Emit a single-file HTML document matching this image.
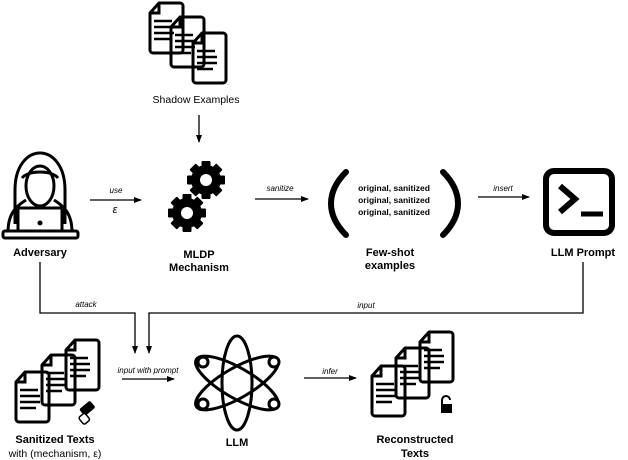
<!DOCTYPE html>
<html><head><meta charset="utf-8"><style>
body{margin:0;background:#fff}
svg{display:block}
text{font-family:"Liberation Sans",sans-serif;fill:#000}
.b{font-weight:bold;font-size:11px}
.i{font-style:italic;font-size:8px}
</style></head><body>
<svg width="628" height="460" viewBox="0 0 628 460" xmlns="http://www.w3.org/2000/svg">
<defs>
<marker id="a" markerWidth="8" markerHeight="8" refX="7" refY="4" orient="auto" markerUnits="userSpaceOnUse">
<path d="M0,1 L8,4 L0,7 Z" fill="#000"/></marker>
<g id="doc">
<path d="M9,0 H30 a3,3 0 0 1 3,3 V47 a3,3 0 0 1 -3,3 H3 a3,3 0 0 1 -3,-3 V10 Z" fill="none" stroke="#000" stroke-width="3" stroke-linejoin="round"/>
<path d="M0,10 H9 V0" fill="none" stroke="#000" stroke-width="3"/>
<path d="M4,18 H22 M4,24 H24 M4,30 H24 M4,36 H20" stroke="#000" stroke-width="2.5"/>
</g>
<g id="gear">
<circle r="15" fill="#000"/>
<g fill="#000">
<rect x="-4.5" y="-19" width="9" height="38" rx="1"/>
<rect x="-4.5" y="-19" width="9" height="38" rx="1" transform="rotate(45)"/>
<rect x="-4.5" y="-19" width="9" height="38" rx="1" transform="rotate(90)"/>
<rect x="-4.5" y="-19" width="9" height="38" rx="1" transform="rotate(135)"/>
</g>
<circle r="6" fill="#fff"/>
</g>
</defs>

<use href="#doc" x="150" y="3"/>
<use href="#doc" x="171" y="17"/>
<use href="#doc" x="193" y="33"/>
<text x="196" y="103" text-anchor="middle" font-size="10.5">Shadow Examples</text>
<line x1="199" y1="115" x2="199" y2="142" stroke="#000" stroke-width="1.3" marker-end="url(#a)"/>

<path d="M15,224 V190 C15,165 28,153 40,153 C52,153 65,165 65,190 V224" fill="none" stroke="#000" stroke-width="3"/>
<path d="M8,232 C8,212 18,205 26,200 M72,232 C72,212 62,205 54,200" fill="none" stroke="#000" stroke-width="3"/>
<ellipse cx="40" cy="186" rx="14" ry="20" fill="none" stroke="#000" stroke-width="3"/>
<path d="M22,178 C28,170 52,170 58,178" fill="none" stroke="#000" stroke-width="3"/>
<rect x="18" y="208" width="44" height="24" fill="#fff" stroke="#000" stroke-width="3"/>
<circle cx="40" cy="223" r="2.5" fill="#000"/>
<rect x="3" y="231" width="75" height="7" rx="2" fill="#fff" stroke="#000" stroke-width="3"/>
<text x="40" y="256" text-anchor="middle" class="b">Adversary</text>

<line x1="90" y1="200" x2="141" y2="200" stroke="#000" stroke-width="1.3" marker-end="url(#a)"/>
<text x="116" y="193" text-anchor="middle" class="i" font-style="normal">use</text>
<text x="115" y="213" text-anchor="middle" font-size="11" font-style="italic">ε</text>

<use href="#gear" x="206" y="180"/>
<use href="#gear" x="187" y="213"/>
<text x="199" y="258" text-anchor="middle" class="b">MLDP</text>
<text x="199" y="271" text-anchor="middle" class="b">Mechanism</text>

<line x1="255" y1="199" x2="308" y2="199" stroke="#000" stroke-width="1.3" marker-end="url(#a)"/>
<text x="280" y="191" text-anchor="middle" class="i">sanitize</text>

<path d="M346,172 C326,192 326,215 346,235" fill="none" stroke="#000" stroke-width="6" stroke-linecap="round"/>
<path d="M443,172 C463,192 463,215 443,235" fill="none" stroke="#000" stroke-width="6" stroke-linecap="round"/>
<text x="394" y="191" text-anchor="middle" font-size="8.5" font-weight="bold">original, sanitized</text>
<text x="394" y="203" text-anchor="middle" font-size="8.5" font-weight="bold">original, sanitized</text>
<text x="394" y="215" text-anchor="middle" font-size="8.5" font-weight="bold">original, sanitized</text>
<text x="390" y="256" text-anchor="middle" class="b">Few-shot</text>
<text x="390" y="269" text-anchor="middle" class="b">examples</text>

<line x1="478" y1="197" x2="529" y2="197" stroke="#000" stroke-width="1.3" marker-end="url(#a)"/>
<text x="503" y="191" text-anchor="middle" class="i">insert</text>

<rect x="546" y="171" width="66" height="62" rx="8" fill="none" stroke="#000" stroke-width="6"/>
<path d="M560,186 L575,199 L560,212" fill="none" stroke="#000" stroke-width="6"/>
<line x1="581" y1="214" x2="603" y2="214" stroke="#000" stroke-width="5"/>
<text x="583" y="256" text-anchor="middle" class="b">LLM Prompt</text>

<path d="M40,262 V313 H135 V353" fill="none" stroke="#000" stroke-width="1.3" marker-end="url(#a)"/>
<text x="86" y="307" text-anchor="middle" class="i">attack</text>
<path d="M583,262 V313 H149 V353" fill="none" stroke="#000" stroke-width="1.3" marker-end="url(#a)"/>
<text x="366" y="308" text-anchor="middle" class="i">input</text>

<use href="#doc" x="66" y="340"/>
<use href="#doc" x="42" y="355"/>
<use href="#doc" x="16" y="372"/>
<rect x="80" y="404" width="14" height="9" rx="2" transform="rotate(-40 87 408)" fill="#000"/>
<rect x="74" y="410" width="8" height="9" rx="2" transform="rotate(-40 87 408)" fill="#fff" stroke="#000" stroke-width="1.5"/>
<text x="55" y="443" text-anchor="middle" class="b">Sanitized Texts</text>
<text x="55" y="457" text-anchor="middle" font-size="10.5">with (mechanism, ε)</text>

<line x1="122" y1="379" x2="174" y2="379" stroke="#000" stroke-width="1.3" marker-end="url(#a)"/>
<text x="148" y="373" text-anchor="middle" class="i">input with prompt</text>

<g fill="none" stroke="#000" stroke-width="3">
<ellipse cx="237" cy="383" rx="15" ry="47"/>
<ellipse cx="237" cy="383" rx="15" ry="47" transform="rotate(60 237 383)"/>
<ellipse cx="237" cy="383" rx="15" ry="47" transform="rotate(-60 237 383)"/>
</g>
<g fill="#fff" stroke="#000" stroke-width="3">
<circle cx="203" cy="362" r="5"/><circle cx="274" cy="362" r="5"/>
<circle cx="203" cy="404" r="5"/><circle cx="274" cy="404" r="5"/>
</g>
<text x="237" y="446" text-anchor="middle" class="b">LLM</text>

<line x1="304" y1="378" x2="356" y2="378" stroke="#000" stroke-width="1.3" marker-end="url(#a)"/>
<text x="330" y="374" text-anchor="middle" class="i">infer</text>

<use href="#doc" x="420" y="332"/>
<use href="#doc" x="396" y="348"/>
<use href="#doc" x="372" y="366"/>
<path d="M442,405 V400 a4,4 0 0 1 8,0" fill="none" stroke="#000" stroke-width="2"/>
<rect x="441" y="404" width="11" height="9" fill="#000"/>
<text x="415" y="443" text-anchor="middle" class="b">Reconstructed</text>
<text x="415" y="457" text-anchor="middle" class="b">Texts</text>
</svg>
</body></html>
